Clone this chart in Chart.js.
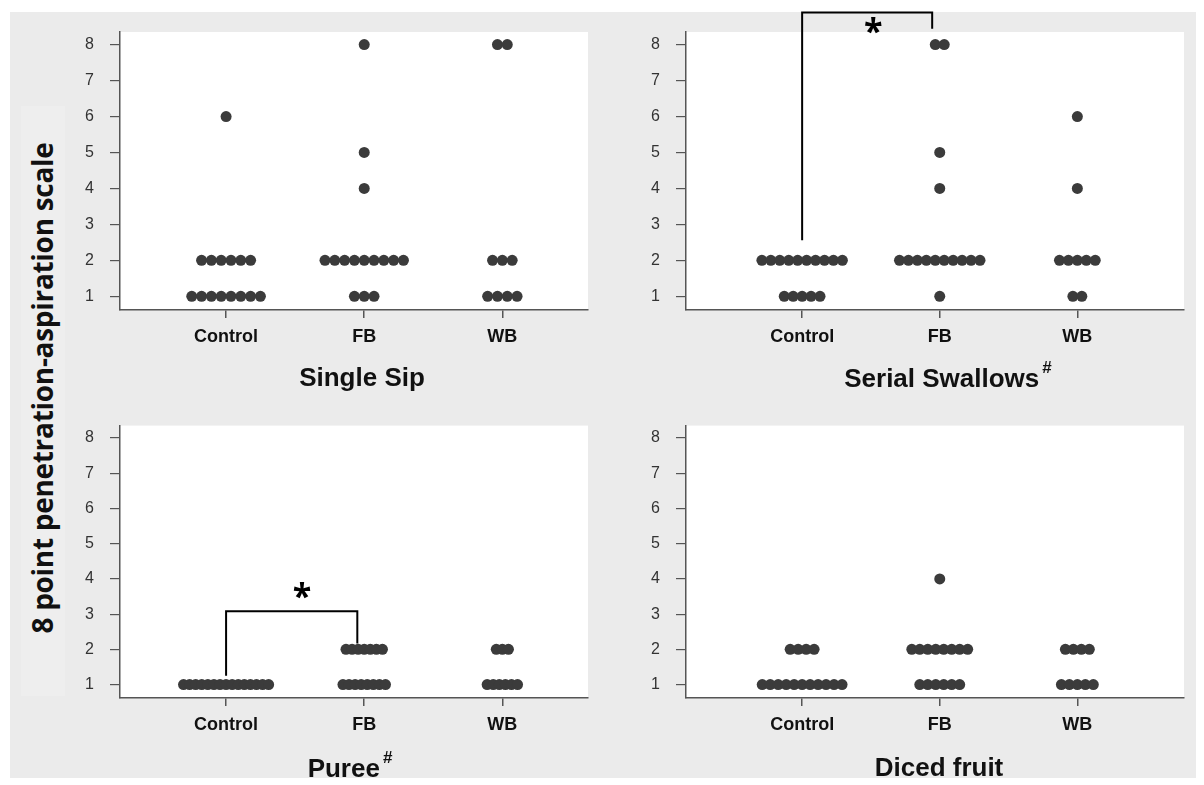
<!DOCTYPE html>
<html>
<head>
<meta charset="utf-8">
<script src="https://cdn.jsdelivr.net/npm/chart.js@4.4.1/dist/chart.umd.min.js"></script>
<style>
  body { margin: 0; background: #fff; }
  #wrap { position: relative; width: 1204px; height: 785px; overflow: hidden; }
  #bg { position: absolute; left: 10px; top: 12px; width: 1186px; height: 766px; background: #ebebeb; }
  #ybox { position: absolute; left: 21px; top: 106px; width: 44px; height: 590px; background: #eeeeee; }
  canvas { position: absolute; }
  .title { position: absolute; font-family: Arial, "Liberation Sans", sans-serif; font-weight: bold;
           font-size: 26px; color: #111; transform: translateX(-50%); white-space: nowrap; }
  .title sup { font-size: 17px; position: relative; top: -4px; margin-left: 3px; }
  #ytitle { position: absolute; left: 42px; top: 388px; font-family: "Open Sans", sans-serif; font-weight: bold;
            font-size: 28px; letter-spacing: -0.3px; color: #111; white-space: nowrap;
            transform: translate(-50%, -50%) rotate(-90deg); }
</style>
</head>
<body>
<div id="wrap">
  <div id="bg"></div>
  <div id="ybox"></div>
  <div id="ytitle">8 point penetration-aspiration scale</div>
  <canvas id="c1" width="600" height="400" style="left:0;top:0"></canvas>
  <canvas id="c2" width="604" height="400" style="left:600px;top:0"></canvas>
  <canvas id="c3" width="600" height="385" style="left:0;top:400px"></canvas>
  <canvas id="c4" width="604" height="385" style="left:600px;top:400px"></canvas>
  <div class="title" style="left:362px;top:362px">Single Sip</div>
  <div class="title" style="left:948px;top:362px">Serial Swallows<sup>#</sup></div>
  <div class="title" style="left:350px;top:752px">Puree<sup>#</sup></div>
  <div class="title" style="left:939px;top:752px">Diced fruit</div>
</div>
<script>
// groups and y ticks
const groups = ["Control", "FB", "WB"];
const yTicks = [1, 2, 3, 4, 5, 6, 7, 8];

// scores per subject (8-point penetration-aspiration scale)
const singleSipControl = [6, 2, 2, 2, 2, 2, 2, 1, 1, 1, 1, 1, 1, 1, 1];
const singleSipFB = [8, 5, 4, 2, 2, 2, 2, 2, 2, 2, 2, 2, 1, 1, 1];
const singleSipWB = [8, 8, 2, 2, 2, 1, 1, 1, 1];

const serialControl = [2, 2, 2, 2, 2, 2, 2, 2, 2, 2, 1, 1, 1, 1, 1];
const serialFB = [8, 8, 5, 4, 2, 2, 2, 2, 2, 2, 2, 2, 2, 2, 1];
const serialWB = [6, 4, 2, 2, 2, 2, 2, 1, 1];

const pureeControl = [1, 1, 1, 1, 1, 1, 1, 1, 1, 1, 1, 1, 1, 1, 1];
const pureeFB = [2, 2, 2, 2, 2, 2, 2, 1, 1, 1, 1, 1, 1, 1, 1];
const pureeWB = [2, 2, 2, 1, 1, 1, 1, 1, 1];

const dicedControl = [2, 2, 2, 2, 1, 1, 1, 1, 1, 1, 1, 1, 1, 1, 1];
const dicedFB = [4, 2, 2, 2, 2, 2, 2, 2, 2, 1, 1, 1, 1, 1, 1];
const dicedWB = [2, 2, 2, 2, 1, 1, 1, 1, 1];

// dot plot: stack equal scores side by side around the group position
function stack(scores, gx, step) {
  const counts = {};
  scores.forEach(v => { counts[v] = (counts[v] || 0) + 1; });
  const pts = [];
  Object.keys(counts).forEach(k => {
    const n = counts[k];
    for (let i = 0; i < n; i++) pts.push({ x: gx + (i - (n - 1) / 2) * step, y: +k });
  });
  return pts;
}

const plotBg = {
  id: "plotBg",
  beforeDraw(chart) {
    const a = chart.chartArea, ctx = chart.ctx;
    ctx.save();
    ctx.fillStyle = "#fff";
    ctx.fillRect(a.left, a.top, a.right - a.left, a.bottom - a.top);
    ctx.restore();
  }
};

const bracket = {
  id: "bracket",
  afterDraw(chart, args, o) {
    const x = chart.scales.x, y = chart.scales.y, ctx = chart.ctx;
    const x1 = x.getPixelForValue(o.x1), x2 = x.getPixelForValue(o.x2);
    ctx.save();
    ctx.strokeStyle = "#000";
    ctx.lineWidth = 2;
    ctx.beginPath();
    ctx.moveTo(x1, y.getPixelForValue(o.y1));
    ctx.lineTo(x1, y.getPixelForValue(o.top));
    ctx.lineTo(x2, y.getPixelForValue(o.top));
    ctx.lineTo(x2, y.getPixelForValue(o.y2));
    ctx.stroke();
    ctx.fillStyle = "#000";
    ctx.font = 'bold 34px "Open Sans"';
    ctx.textAlign = "center";
    ctx.textBaseline = "middle";
    ctx.fillText("*", x.getPixelForValue(o.sx), y.getPixelForValue(o.sy));
    ctx.restore();
  }
};

function makeChart(id, sets, step, xr, box, mark) {
  const pts = [];
  sets.forEach((s, i) => pts.push(...stack(s, i + 1, step)));
  new Chart(document.getElementById(id), {
    type: "scatter",
    data: {
      datasets: [{
        data: pts,
        backgroundColor: "#3b3b3b",
        borderWidth: 0,
        pointRadius: 5.5,
        pointHoverRadius: 5.5
      }]
    },
    options: {
      responsive: false,
      animation: false,
      events: [],
      layout: { padding: { top: box.top, right: box.right, left: 0, bottom: 0 } },
      plugins: {
        legend: { display: false },
        tooltip: { enabled: false },
        bracket: mark
      },
      scales: {
        x: {
          type: "linear",
          min: xr[0],
          max: xr[1],
          afterBuildTicks: s => { s.ticks = [1, 2, 3].map(v => ({ value: v })); },
          afterFit: s => { s.height = box.xh; },
          ticks: {
            callback: v => groups[v - 1],
            font: { family: "Arial", size: 18, weight: "bold" },
            color: "#111",
            padding: 8,
            maxRotation: 0,
            autoSkip: false
          },
          grid: { drawOnChartArea: false, tickLength: 8, color: "#555", lineWidth: 1.5 },
          border: { color: "#555", width: 1.5 }
        },
        y: {
          min: 0.62,
          max: 8.35,
          afterBuildTicks: s => { s.ticks = yTicks.map(v => ({ value: v })); },
          afterFit: s => { s.width = box.yw; },
          ticks: { font: { family: "Arial", size: 16 }, color: "#333", padding: 16 },
          grid: { drawOnChartArea: false, tickLength: 10, color: "#555", lineWidth: 1.2 },
          border: { color: "#555", width: 1.5 }
        }
      }
    },
    plugins: [plotBg, bracket]
  });
}

const leftBox = { top: 32, right: 12, yw: 120, xh: 90 };
const rightBox = { top: 32, right: 20, yw: 86, xh: 90 };

makeChart("c1", [singleSipControl, singleSipFB, singleSipWB], 0.071, [0.232, 3.62], leftBox, false);
makeChart("c2", [serialControl, serialFB, serialWB], 0.065, [0.156, 3.775], rightBox,
  { x1: 1, y1: 2.56, top: 8.89, x2: 1.945, y2: 8.44, sx: 1.516, sy: 8.3 });
makeChart("c3", [pureeControl, pureeFB, pureeWB], 0.044, [0.232, 3.62],
  { top: 20, right: 12, yw: 120, xh: 87 },
  { x1: 1, y1: 1.25, top: 3.08, x2: 1.95, y2: 2.17, sx: 1.55, sy: 3.45 });
makeChart("c4", [dicedControl, dicedFB, dicedWB], 0.058, [0.156, 3.775],
  { top: 20, right: 20, yw: 86, xh: 87 }, false);
</script>
</body>
</html>
